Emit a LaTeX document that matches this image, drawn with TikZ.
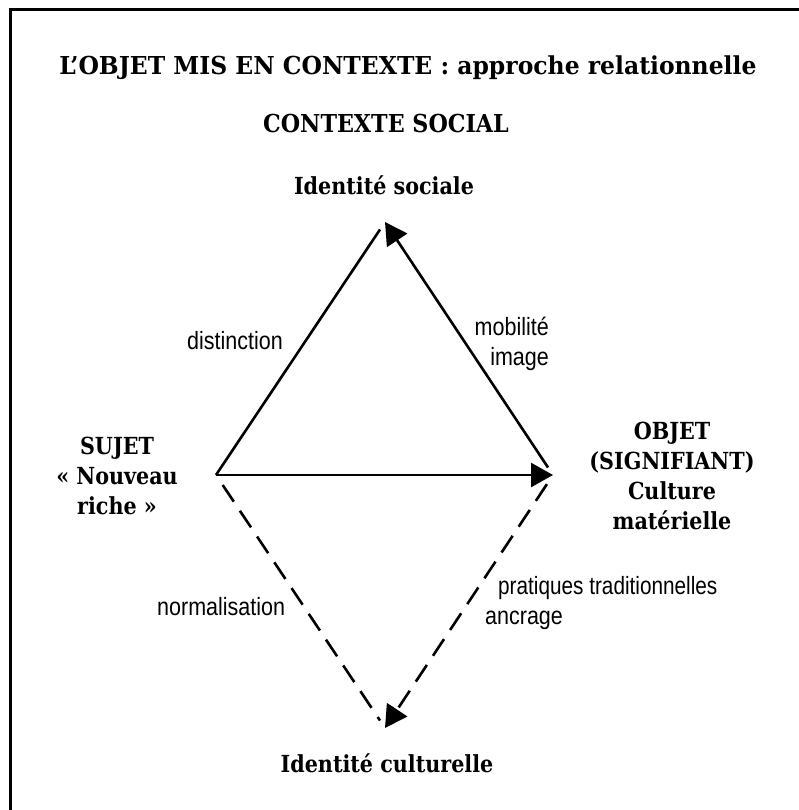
\documentclass[tikz,border=0pt]{standalone}
\usepackage{fontspec}
\setmainfont{Liberation Serif}
\newfontfamily\headfont[FakeStretch=0.88]{DejaVu Serif}
\newfontfamily\ctxfont[FakeStretch=0.9]{DejaVu Serif}
\newfontfamily\bigfont[FakeStretch=0.95]{DejaVu Serif}
\newfontfamily\labfont[FakeStretch=0.86]{Liberation Sans}
\usetikzlibrary{arrows.meta}
\begin{document}
\begin{tikzpicture}[x=1pt,y=-1pt,
  frame/.style={line width=3pt},
  edge/.style={line width=2.6pt, line join=round, line cap=butt},
  dashedge/.style={edge, dash pattern=on 20pt off 11pt},
  tip/.style={-{Triangle[length=22pt,width=24pt]}},
  titlefont/.style={font=\bigfont\fontsize{24.7}{30}\selectfont\bfseries, inner sep=0pt},
  ctxstyle/.style={font=\ctxfont\fontsize{24.7}{30}\selectfont\bfseries, inner sep=0pt},
  head/.style={font=\headfont\fontsize{23.5}{30}\selectfont\bfseries, align=center, inner sep=0pt},
  lab/.style={font=\labfont\fontsize{25}{30}\selectfont, inner sep=0pt}]
\useasboundingbox (0,0) rectangle (798,810);
\draw[frame] (10,811) -- (10,10) -- (799,10);

% vertices
\coordinate (vS) at (216,475);
\coordinate (vO) at (553,475);
\coordinate (vT) at (385,222);
\coordinate (vB) at (385,728);

% texts
\node[titlefont, anchor=base] (title) at (408,75) {L’OBJET MIS EN CONTEXTE : approche relationnelle};
\node[ctxstyle, anchor=base] (ctx) at (386,133) {CONTEXTE SOCIAL};
\node[head, anchor=base] (idsoc) at (384,195) {Identité sociale};
\node[head, anchor=base] (idcul) at (387,772) {Identité culturelle};
\node[head, anchor=north] (sujet) at (117,437) {SUJET\\« Nouveau\\riche »};
\node[head, anchor=north] (objet) at (672,422) {OBJET\\(SIGNIFIANT)\\Culture\\matérielle};

\node[lab, anchor=base west] (ldist) at (187,349) {distinction};
\node[lab, anchor=north east, align=right] (lmob) at (549,317) {mobilité\\image};
\node[lab, anchor=base west] (lnorm) at (157,615) {normalisation};
\node[lab, anchor=north west, align=left, font=\labfont\fontsize{25}{30}\selectfont] (lprat) at (485,576) {\hspace*{13pt}\scalebox{0.965}[1]{pratiques traditionnelles}\\ancrage};

% connectors
\draw[edge, shorten >=9pt] (vS) -- (vT);
\draw[edge, tip, shorten <=9pt] (vO) -- (vT);
\draw[edge, tip] (vS) -- (vO);
\draw[dashedge, shorten <=12pt, shorten >=9pt] (vS) -- (vB);
\draw[dashedge, tip, shorten <=11pt] (vO) -- (vB);
\end{tikzpicture}
\end{document}
